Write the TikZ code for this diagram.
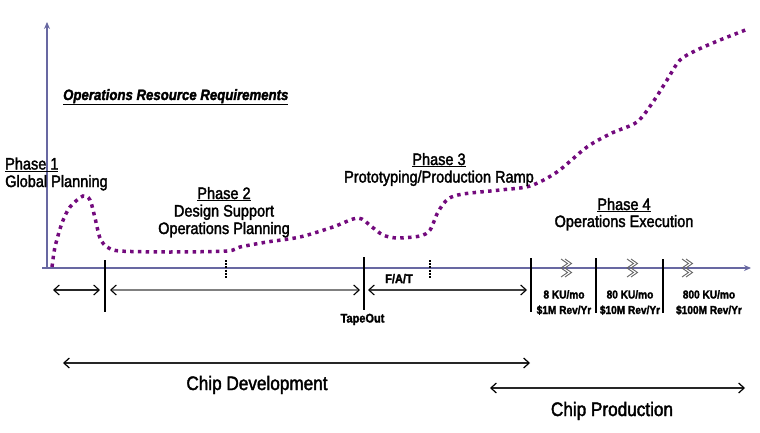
\documentclass[tikz,border=0pt]{standalone}
\usepackage{fontspec}
\setmainfont{Liberation Sans}[FakeStretch=0.88, FakeBold=2]
\usetikzlibrary{arrows.meta}
\definecolor{ejecol}{RGB}{104,104,162}
\definecolor{curvacol}{RGB}{115,10,125}
\definecolor{chevcol}{RGB}{100,100,100}
\begin{document}
\begin{tikzpicture}[x=1pt,y=-1pt,
    eje/.style={ejecol, line width=1.5pt, -{Stealth[length=7pt,width=6pt]}},
    curva/.style={curvacol, line width=3.5pt, dash pattern=on 3.5pt off 4.3pt},
    marca/.style={black, line width=1.2pt},
    flecha/.style={{Straight Barb[length=5.5pt,width=10pt,color=black]}-{Straight Barb[length=5.5pt,width=10pt,color=black]}, line width=1.1pt},
    fase/.style={anchor=base, inner sep=0pt, font=\fontsize{16.5}{18}\selectfont},
    dato/.style={anchor=base, inner sep=0pt, font=\bfseries\fontsize{11.5}{14}\selectfont},
    grande/.style={anchor=base, inner sep=0pt, font=\fontsize{19.5}{22}\selectfont}]
    \useasboundingbox (0,0) rectangle (760,433);

    % Ejes
    \coordinate (origen) at (47,268);
    \coordinate (yfin) at (47,22);
    \coordinate (xini) at (42,268);
    \coordinate (xfin) at (751,268);
    \draw[eje] (origen) -- (yfin);
    \draw[eje] (xini) -- (xfin);

    % Curva de recursos
    \draw[curva] plot[smooth, tension=0.5] coordinates {
        (52,267) (55,247) (62,223) (70,207) (83,196) (90,200) (95,218)
        (100,238) (107,247) (120,251) (170,252) (227,251) (240,247)
        (267,242) (300,237) (333,227) (358,218) (372,227) (383,235)
        (397,238) (420,236) (430,230) (438,212) (448,199) (463,194)
        (500,190) (530,186) (557,172) (587,147) (612,133) (637,122)
        (653,102) (667,80) (680,60) (697,50) (720,40) (748,29)};

    % Marcas verticales
    \foreach \x/\a/\b in {105/260/312, 364/257/310, 531/258/312, 596/258/313, 663/259/313} {
        \coordinate (ma\x) at (\x,\a);
        \coordinate (mb\x) at (\x,\b);
        \draw[marca] (ma\x) -- (mb\x);
    }

    % Marcas discontinuas
    \foreach \x in {226,430} {
        \coordinate (da\x) at (\x,260);
        \coordinate (db\x) at (\x,278);
        \draw[line width=1.4pt, dash pattern=on 2pt off 1.2pt] (da\x) -- (db\x);
    }

    % Chevrones sobre el eje
    \foreach \x in {561,627,682} {
        \foreach \d in {0,4}
            \draw[chevcol, line width=0.9pt] (\x+\d,259) -- ++(6.5,4.5) -- ++(-6.5,4.5) -- ++(6.5,4.5) -- ++(-6.5,4.5);
    }

    % Flechas de duracion
    \coordinate (f1a) at (53,290);
    \coordinate (f1b) at (100,290);
    \coordinate (f2a) at (110,290);
    \coordinate (f2b) at (360,290);
    \coordinate (f3a) at (368,290);
    \coordinate (f3b) at (527,290);
    \draw[flecha, black!85] (f1a) -- (f1b);
    \draw[flecha, gray] (f2a) -- (f2b);
    \draw[flecha, black!75] (f3a) -- (f3b);

    % Titulo
    \node[anchor=base west, inner sep=0pt, font=\bfseries\itshape\fontsize{15}{18}\selectfont] (titulo) at (63,100)
        {\underline{Operations Resource Requirements}};

    % Fases
    \node[fase, anchor=base west] (fase1) at (5,169.5) {\underline{Phase 1}};
    \node[fase, anchor=base west] (plan1) at (5,187) {Global Planning};
    \node[fase] (fase2) at (224,199) {\underline{Phase 2}};
    \node[fase] (diseno2) at (224,216.5) {Design Support};
    \node[fase] (plan2) at (224,234) {Operations Planning};
    \node[fase] (fase3) at (439,165) {\underline{Phase 3}};
    \node[fase] (proto3) at (439,182.5) {Prototyping/Production Ramp};
    \node[fase] (fase4) at (624,210) {\underline{Phase 4}};
    \node[fase] (ejec4) at (624,227) {Operations Execution};

    % Etiquetas del eje
    \node[dato, font=\bfseries\fontsize{12.5}{14}\selectfont] (tapeout) at (362.5,322.5) {TapeOut};
    \node[dato, font=\bfseries\fontsize{12.5}{14}\selectfont] (fat) at (399,283) {F/A/T};
    \foreach \x/\u/\r in {564/8/1, 630/80/10, 709/800/100} {
        \node[dato] (ku\x) at (\x,298.5) {\u\ KU/mo};
        \node[dato] (rev\x) at (\x,314) {\$\r M Rev/Yr};
    }

    % Desarrollo y produccion
    \coordinate (desa) at (63,363);
    \coordinate (desb) at (530,363);
    \coordinate (proda) at (490,388);
    \coordinate (prodb) at (745,388);
    \draw[flecha, black!85, line width=1.2pt] (desa) -- (desb);
    \draw[flecha, black!85, line width=1.2pt] (proda) -- (prodb);
    \node[grande] (desarrollo) at (257,390) {Chip Development};
    \node[grande] (produccion) at (612,416) {Chip Production};
\end{tikzpicture}
\end{document}
